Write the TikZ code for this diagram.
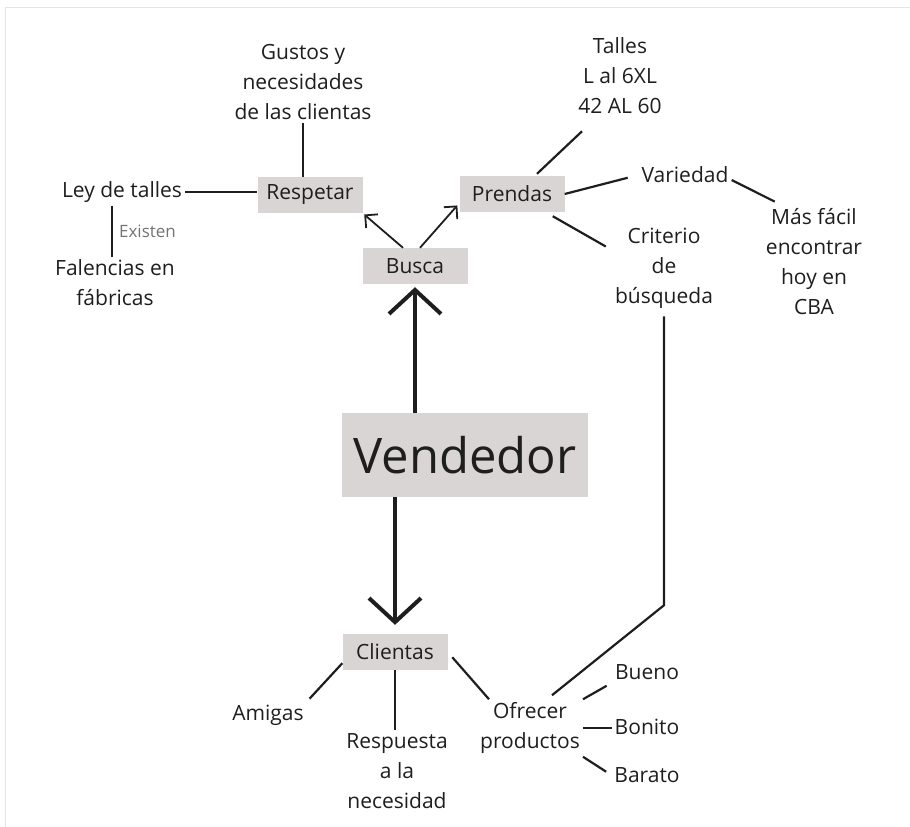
\documentclass[tikz,border=0pt]{standalone}
\usepackage{fontspec}
\setmainfont{Open Sans}
\usetikzlibrary{arrows.meta}
\definecolor{boxgray}{HTML}{D9D5D4}
\definecolor{ink}{HTML}{1E1E1E}
\definecolor{framegray}{HTML}{E4E4E4}

\begin{document}
\begin{tikzpicture}[
    x=1pt, y=-1pt,
    every node/.style={font=\fontsize{21}{30}\selectfont, text=ink, align=center, inner sep=3pt},
    box/.style={fill=boxgray, minimum width=105pt, minimum height=36pt, inner sep=0pt},
    bigbox/.style={fill=boxgray, minimum width=246pt, minimum height=84pt, inner sep=0pt, font=\fontsize{49}{56}\selectfont},
    note/.style={font=\fontsize{17}{20}\selectfont, text=black!55},
    link/.style={draw=ink, line width=2.2pt},
    pick/.style={draw=ink, line width=1.8pt, -{Straight Barb[length=9pt,width=18pt]}},
    main/.style={draw=ink, line width=4pt, -{Straight Barb[length=24pt,width=52pt]}}
]
\useasboundingbox (0,0) rectangle (910,827);
\draw[framegray, line width=1pt] (5,827) -- (5,7) -- (910,7);

% boxes
\node[bigbox] (vendedor) at (465,455) {Vendedor};
\node[box] (busca) at (415,266) {Busca};
\node[box] (respetar) at (310,195) {Respetar};
\node[box] (prendas) at (512,194) {Prendas};
\node[box] (clientas) at (395,652) {Clientas};

% texts
\node (gustos) at (303,82) {Gustos y\\necesidades\\de las clientas};
\node (ley) at (122,192) {Ley de talles};
\node (falencias) at (115,283) {Falencias en\\fábricas};
\node (talles) at (620,76) {Talles\\L al 6XL\\42 AL 60};
\node (variedad) at (685,175) {Variedad};
\node (masfacil) at (814,262) {Más fácil\\encontrar\\hoy en\\CBA};
\node (criterio) at (664,268) {Criterio\\de\\búsqueda};
\node (amigas) at (268,715) {Amigas};
\node (respuesta) at (397,771) {Respuesta\\a la\\necesidad};
\node (ofrecer) at (530,728) {Ofrecer\\productos};
\node (bueno) at (647,672) {Bueno};
\node (bonito) at (647,727) {Bonito};
\node (barato) at (647,775) {Barato};

% vendedor
\draw[main, shorten >=3pt] (busca.south |- vendedor.north) -- (busca.south);
\draw[main, shorten >=9pt] (clientas.north |- vendedor.south) -- (clientas.north);

% busca
\draw[pick, shorten >=2pt] ([xshift=-12pt]busca.north) -- (respetar.south east);
\draw[pick, shorten >=3pt] ([xshift=5pt]busca.north) -- ([yshift=9pt]prendas.south west);

% respetar
\draw[link] (gustos.south) -- (gustos.south |- respetar.north);
\draw[link] (ley.east) -- (ley.east -| respetar.west);
\draw[link] ([xshift=-10pt]ley.south) -- ([xshift=-10pt]ley.south |- falencias.north)
    node[note, midway, right, xshift=3pt] (existen) {Existen};

% prendas
\draw[link] ([xshift=25pt,yshift=2pt]prendas.north) -- ([xshift=-38pt,yshift=-14pt]talles.south);
\draw[link, shorten >=11pt] (prendas.east) -- (variedad.west);
\draw[link] ([yshift=-5pt]variedad.east) -- ([xshift=12pt,yshift=4pt]masfacil.north west);
\draw[link, shorten >=7pt] ([xshift=-12pt,yshift=-4pt]prendas.south east) -- ([yshift=18pt]criterio.west);
\draw[link, shorten <=5pt] (criterio.south) -- ([yshift=94pt]criterio.south |- ofrecer.north)
    -- ([xshift=22pt,yshift=4pt]ofrecer.north);

% clientas
\draw[link, shorten >=4pt] ([yshift=7pt]clientas.south west) -- (amigas.north east);
\draw[link] (clientas.south) -- (clientas.south |- respuesta.north);
\draw[link, shorten <=7pt] (clientas.east) -- ([xshift=12pt]ofrecer.north west);
\draw[link, shorten >=6pt] (ofrecer.north east) -- (bueno.south west);
\draw[link] (ofrecer.east) -- (ofrecer.east -| bonito.west);
\draw[link, shorten >=6pt] (ofrecer.south east) -- (barato.west);
\end{tikzpicture}
\end{document}
